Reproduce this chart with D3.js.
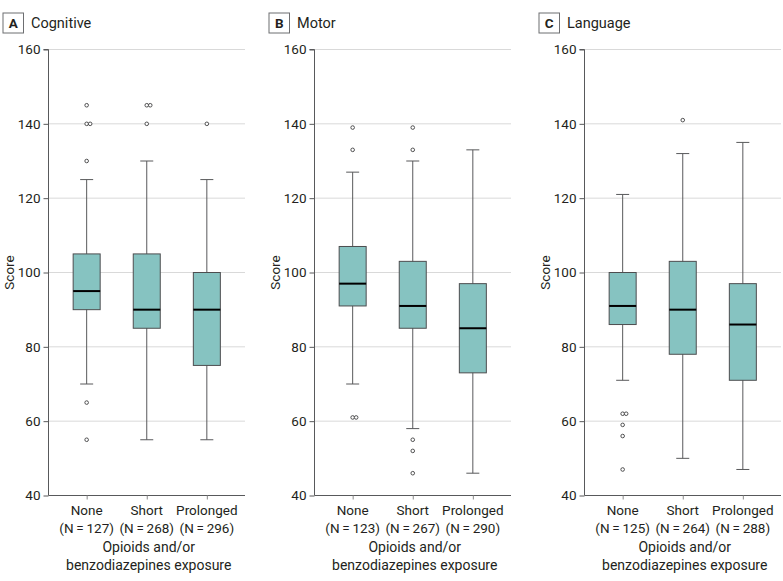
<!DOCTYPE html>
<html>
<head>
<meta charset="utf-8">
<script src="https://cdn.jsdelivr.net/npm/d3@7"></script>
<style>
  body { margin: 0; background: #fff; }
  svg { font-family: Roboto, "Open Sans", sans-serif; }
</style>
</head>
<body>
<div id="chart"></div>
<script>
// ---------------------------------------------------------------------------
// Data
// ---------------------------------------------------------------------------
const groups = ["None", "Short", "Prolonged"];
const yTicks = [40, 60, 80, 100, 120, 140, 160];

const panelLetters = ["A", "B", "C"];
const panelTitles = ["Cognitive", "Motor", "Language"];

const cognitiveN = [127, 268, 296];
const motorN = [123, 267, 290];
const languageN = [125, 264, 288];

// each: [whisker low, q1, median, q3, whisker high]
const cognitiveBoxes = [
  [70, 90, 95, 105, 125],
  [55, 85, 90, 105, 130],
  [55, 75, 90, 100, 125]
];
const motorBoxes = [
  [70, 91, 97, 107, 127],
  [58, 85, 91, 103, 130],
  [46, 73, 85, 97, 133]
];
const languageBoxes = [
  [71, 86, 91, 100, 121],
  [50, 78, 90, 103, 132],
  [47, 71, 86, 97, 135]
];

const cognitiveOutliers = [
  [145, 140, 140, 130, 65, 55],
  [145, 145, 140],
  [140]
];
const motorOutliers = [
  [139, 133, 61, 61],
  [139, 133, 55, 52, 46],
  []
];
const languageOutliers = [
  [62, 62, 59, 56, 47],
  [141],
  []
];

const panels = [
  { n: cognitiveN, boxes: cognitiveBoxes, outliers: cognitiveOutliers },
  { n: motorN, boxes: motorBoxes, outliers: motorOutliers },
  { n: languageN, boxes: languageBoxes, outliers: languageOutliers }
];

// ---------------------------------------------------------------------------
// Layout
// ---------------------------------------------------------------------------
const W = 783, H = 581;
const panelLeft = [48.5, 314.5, 584.5];
const plotW = 196.5;
const yTop = 49.5, yBottom = 495.5;
const boxW = 27, capW = 13;

const fill = "#86c3c1";
const textColor = "#231f20";

const svg = d3.select("#chart").append("svg")
  .attr("width", W)
  .attr("height", H);

const y = d3.scaleLinear().domain([40, 160]).range([yBottom, yTop]);

panels.forEach((p, i) => {
  const left = panelLeft[i];
  const g = svg.append("g").attr("transform", `translate(${left},0)`);

  const x = d3.scalePoint()
    .domain(groups)
    .range([0, plotW])
    .padding(0.635);

  // panel header: boxed letter + title
  const hx = left - 45.5;
  svg.append("rect")
    .attr("x", hx).attr("y", 13)
    .attr("width", 20.5).attr("height", 20)
    .attr("fill", "#fff")
    .attr("stroke", "#6d6e71")
    .attr("stroke-width", 1);
  svg.append("text")
    .attr("x", hx + 10.25).attr("y", 28)
    .attr("text-anchor", "middle")
    .style("font-size", "13.5px")
    .style("font-weight", "bold")
    .style("fill", textColor)
    .text(panelLetters[i]);
  svg.append("text")
    .attr("x", hx + 28).attr("y", 28)
    .style("font-size", "14.5px")
    .style("fill", textColor)
    .text(panelTitles[i]);

  // gridlines
  g.append("g")
    .selectAll("line")
    .data(yTicks.filter(t => t > 40))
    .join("line")
    .attr("x1", 0).attr("x2", plotW)
    .attr("y1", d => y(d)).attr("y2", d => y(d))
    .attr("stroke", "#d9d9d9")
    .attr("stroke-width", 1);

  // y axis
  const yAxis = g.append("g")
    .call(d3.axisLeft(y).tickValues(yTicks).tickSize(5).tickPadding(3));
  yAxis.select(".domain").attr("stroke", "#58595b").attr("d", `M-5,${yTop}H0V${yBottom}`);
  yAxis.selectAll(".tick line").attr("stroke", "#58595b");
  yAxis.selectAll(".tick text")
    .style("font-size", "13.5px")
    .style("font-family", "Roboto, sans-serif")
    .attr("fill", textColor);

  // x axis
  const xAxis = g.append("g")
    .attr("transform", `translate(0,${yBottom})`)
    .call(d3.axisBottom(x).tickSize(4).tickFormat(""));
  xAxis.select(".domain").attr("stroke", "#58595b").attr("d", `M0,0H${plotW}`);
  xAxis.selectAll(".tick line").attr("stroke", "#8a8a8a");

  // category labels
  const lab = g.append("g")
    .selectAll("text")
    .data(groups)
    .join("text")
    .attr("x", d => x(d))
    .attr("text-anchor", "middle")
    .style("font-size", "13.5px")
    .style("fill", textColor);
  lab.append("tspan").attr("x", d => x(d)).attr("y", 515).text(d => d);
  lab.append("tspan").attr("x", d => x(d)).attr("y", 533)
    .text((d, j) => `(N\u2009=\u2009${p.n[j]})`);

  // axis title
  g.append("text")
    .attr("x", plotW / 2 + 2).attr("y", 552)
    .attr("text-anchor", "middle")
    .style("font-size", "14px")
    .style("fill", textColor)
    .text("Opioids and/or");
  g.append("text")
    .attr("x", plotW / 2 + 2).attr("y", 570)
    .attr("text-anchor", "middle")
    .style("font-size", "14px")
    .style("fill", textColor)
    .text("benzodiazepines exposure");

  g.append("text")
    .attr("transform", `translate(-35,${(yTop + yBottom) / 2}) rotate(-90)`)
    .attr("text-anchor", "middle")
    .style("font-size", "13.5px")
    .style("fill", textColor)
    .text("Score");

  // boxes
  const box = g.append("g")
    .selectAll("g")
    .data(p.boxes)
    .join("g")
    .attr("transform", (d, j) => `translate(${x(groups[j])},0)`);

  box.append("line")
    .attr("y1", d => y(d[0])).attr("y2", d => y(d[4]))
    .attr("stroke", "#58595b").attr("stroke-width", 1);
  box.append("line")
    .attr("x1", -capW / 2).attr("x2", capW / 2)
    .attr("y1", d => y(d[4])).attr("y2", d => y(d[4]))
    .attr("stroke", "#58595b").attr("stroke-width", 1);
  box.append("line")
    .attr("x1", -capW / 2).attr("x2", capW / 2)
    .attr("y1", d => y(d[0])).attr("y2", d => y(d[0]))
    .attr("stroke", "#58595b").attr("stroke-width", 1);
  box.append("rect")
    .attr("x", -boxW / 2).attr("width", boxW)
    .attr("y", d => y(d[3]))
    .attr("height", d => y(d[1]) - y(d[3]))
    .attr("fill", fill)
    .attr("stroke", "#4d4d4f")
    .attr("stroke-width", 1);
  box.append("line")
    .attr("x1", -boxW / 2).attr("x2", boxW / 2)
    .attr("y1", d => y(d[2])).attr("y2", d => y(d[2]))
    .attr("stroke", "#000").attr("stroke-width", 2);

  // outliers (repeated values are nudged sideways)
  p.outliers.forEach((vals, j) => {
    const seen = {};
    const pts = vals.map(v => {
      seen[v] = (seen[v] || 0) + 1;
      return { v, k: seen[v] - 1 };
    });
    g.append("g")
      .selectAll("circle")
      .data(pts)
      .join("circle")
      .attr("cx", d => x(groups[j]) + d.k * 3.5)
      .attr("cy", d => y(d.v))
      .attr("r", 1.8)
      .attr("fill", "#fff")
      .attr("stroke", "#404041")
      .attr("stroke-width", 0.9);
  });
});
</script>
</body>
</html>
